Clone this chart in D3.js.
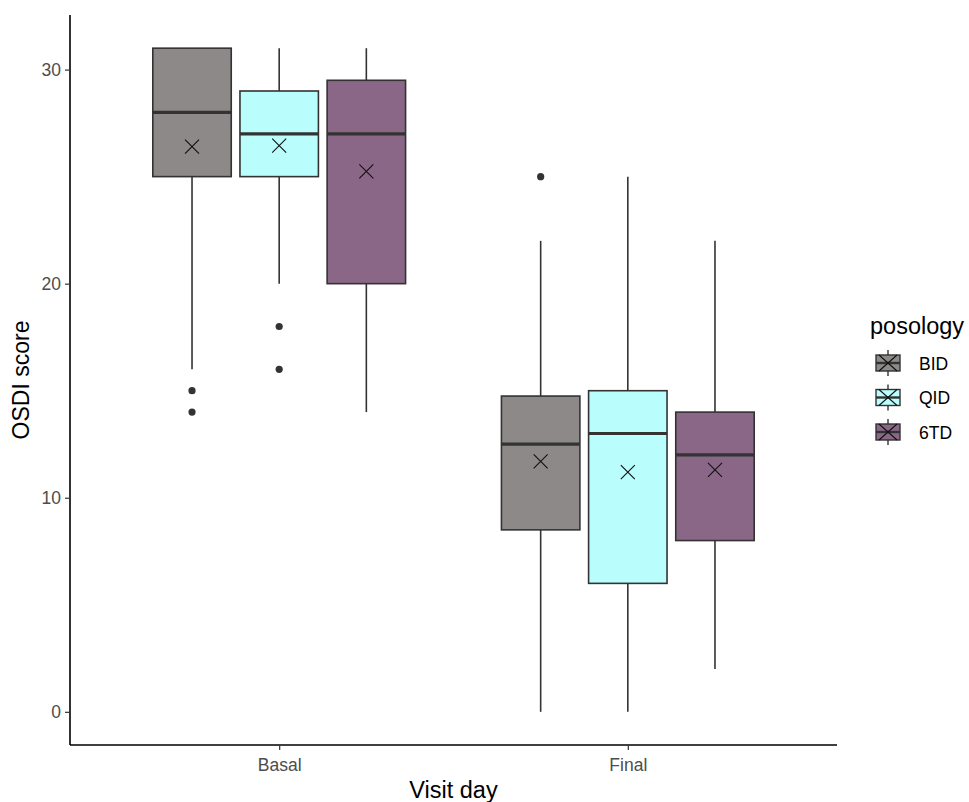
<!DOCTYPE html>
<html>
<head>
<meta charset="utf-8">
<script src="https://cdn.jsdelivr.net/npm/d3@7"></script>
<style>
body { margin: 0; background: #fff; }
svg { display: block; font-family: "Liberation Sans", Arial, sans-serif; }
</style>
</head>
<body>
<svg id="chart" width="969" height="802"></svg>
<script>
// ---- data ----
const visits = ["Basal", "Final"];
const posologies = ["BID", "QID", "6TD"];
const colors = ["#8d8989", "#b9fdfd", "#8b6787"];
const yTicks = [0, 10, 20, 30];
// box stats per box (visit x posology)
const boxVisit = ["Basal", "Basal", "Basal", "Final", "Final", "Final"];
const boxPos = ["BID", "QID", "6TD", "BID", "QID", "6TD"];
const lowerWhisker = [16, 20, 14, 0, 0, 2];
const q1 = [25, 25, 20, 8.5, 6, 8];
const median = [28, 27, 27, 12.5, 13, 12];
const q3 = [31, 29, 29.5, 14.75, 15, 14];
const upperWhisker = [31, 31, 31, 22, 25, 22];
const means = [26.4, 26.45, 25.25, 11.7, 11.2, 11.3];
const outliers = [[15, 14], [18, 16], [], [25], [], []];

const boxes = boxVisit.map((v, i) => ({
  visit: v, pos: boxPos[i], lw: lowerWhisker[i], q1: q1[i], med: median[i],
  q3: q3[i], uw: upperWhisker[i], mean: means[i], out: outliers[i]
}));

// ---- layout ----
const svg = d3.select("#chart");
const pLeft = 70, pRight = 837, pTop = 15, pBottom = 745;
const stroke = "#333333";

const y = d3.scaleLinear().domain([-1.55, 32.55]).range([pBottom, pTop]);
const span = pRight - pLeft;
const xc = d3.scalePoint().domain(visits).range([pLeft + span * 0.6 / 2.2, pRight - span * 0.6 / 2.2]);
const unit = xc(visits[1]) - xc(visits[0]);
const dodge = d3.scaleBand().domain(posologies).range([-0.375 * unit, 0.375 * unit]);
const color = d3.scaleOrdinal().domain(posologies).range(colors);
const boxW = dodge.bandwidth() * 0.9;

const g = svg.append("g");

boxes.forEach(b => {
  const cx = xc(b.visit) + dodge(b.pos) + dodge.bandwidth() / 2;
  const bg = g.append("g");
  bg.append("line").attr("x1", cx).attr("x2", cx).attr("y1", y(b.q3)).attr("y2", y(b.uw))
    .attr("stroke", stroke).attr("stroke-width", 1.6);
  bg.append("line").attr("x1", cx).attr("x2", cx).attr("y1", y(b.q1)).attr("y2", y(b.lw))
    .attr("stroke", stroke).attr("stroke-width", 1.6);
  bg.append("rect").attr("x", cx - boxW / 2).attr("width", boxW)
    .attr("y", y(b.q3)).attr("height", y(b.q1) - y(b.q3))
    .attr("fill", color(b.pos)).attr("stroke", stroke).attr("stroke-width", 1.6);
  bg.append("line").attr("x1", cx - boxW / 2).attr("x2", cx + boxW / 2)
    .attr("y1", y(b.med)).attr("y2", y(b.med))
    .attr("stroke", stroke).attr("stroke-width", 3.2);
  b.out.forEach(o => {
    bg.append("circle").attr("cx", cx).attr("cy", y(o)).attr("r", 3.6).attr("fill", stroke);
  });
  const s = 7;
  const my = y(b.mean);
  bg.append("path").attr("d", `M${cx - s},${my - s}L${cx + s},${my + s}M${cx - s},${my + s}L${cx + s},${my - s}`)
    .attr("stroke", "#111").attr("stroke-width", 1.1).attr("fill", "none");
});

// axes
const yAxis = d3.axisLeft(y).tickValues(yTicks).tickSize(5).tickPadding(4);
const ya = svg.append("g").attr("transform", `translate(${pLeft},0)`).call(yAxis);
ya.select(".domain").attr("d", `M0,${pTop}V${pBottom}`).attr("stroke", "#000").attr("stroke-width", 1.6);
ya.selectAll(".tick line").attr("stroke", "#333").attr("stroke-width", 1.2);
ya.selectAll(".tick text").attr("fill", "#4d4d4d").attr("font-size", 17.5).attr("font-family", "Liberation Sans, Arial, sans-serif");

const xAxis = d3.axisBottom(xc).tickSize(5).tickPadding(9);
const xa = svg.append("g").attr("transform", `translate(0,${pBottom})`).call(xAxis);
xa.select(".domain").attr("d", `M${pLeft},0H${pRight}`).attr("stroke", "#000").attr("stroke-width", 1.6);
xa.selectAll(".tick line").attr("stroke", "#333").attr("stroke-width", 1.2);
xa.selectAll(".tick text").attr("fill", "#4d4d4d").attr("font-size", 17.5).attr("font-family", "Liberation Sans, Arial, sans-serif");

svg.append("text").attr("x", (pLeft + pRight) / 2).attr("y", 798).attr("text-anchor", "middle")
  .attr("font-size", 23.5).attr("fill", "#000").text("Visit day");
svg.append("text").attr("transform", `translate(29,${(pTop + pBottom) / 2}) rotate(-90)`)
  .attr("text-anchor", "middle").attr("font-size", 23).attr("fill", "#000").text("OSDI score");

// legend
const lg = svg.append("g").attr("transform", "translate(862,0)");
lg.append("text").attr("x", 8).attr("y", 334).attr("font-size", 23.5).attr("fill", "#000").text("posology");
posologies.forEach((p, i) => {
  const ky = 363 + i * 34.5;
  const kx = 26;
  const k = lg.append("g");
  k.append("line").attr("x1", kx).attr("x2", kx).attr("y1", ky - 13).attr("y2", ky + 13)
    .attr("stroke", stroke).attr("stroke-width", 1.4);
  k.append("rect").attr("x", kx - 12).attr("width", 24).attr("y", ky - 8).attr("height", 16)
    .attr("fill", color(p)).attr("stroke", stroke).attr("stroke-width", 1.4);
  k.append("line").attr("x1", kx - 12).attr("x2", kx + 12).attr("y1", ky).attr("y2", ky)
    .attr("stroke", stroke).attr("stroke-width", 2.4);
  k.append("path").attr("d", `M${kx - 9},${ky - 8}L${kx + 9},${ky + 8}M${kx - 9},${ky + 8}L${kx + 9},${ky - 8}`)
    .attr("stroke", "#111").attr("stroke-width", 1.1).attr("fill", "none");
  lg.append("text").attr("x", 57).attr("y", ky + 6.5).attr("font-size", 17.5).attr("fill", "#000").text(p);
});
</script>
</body>
</html>
